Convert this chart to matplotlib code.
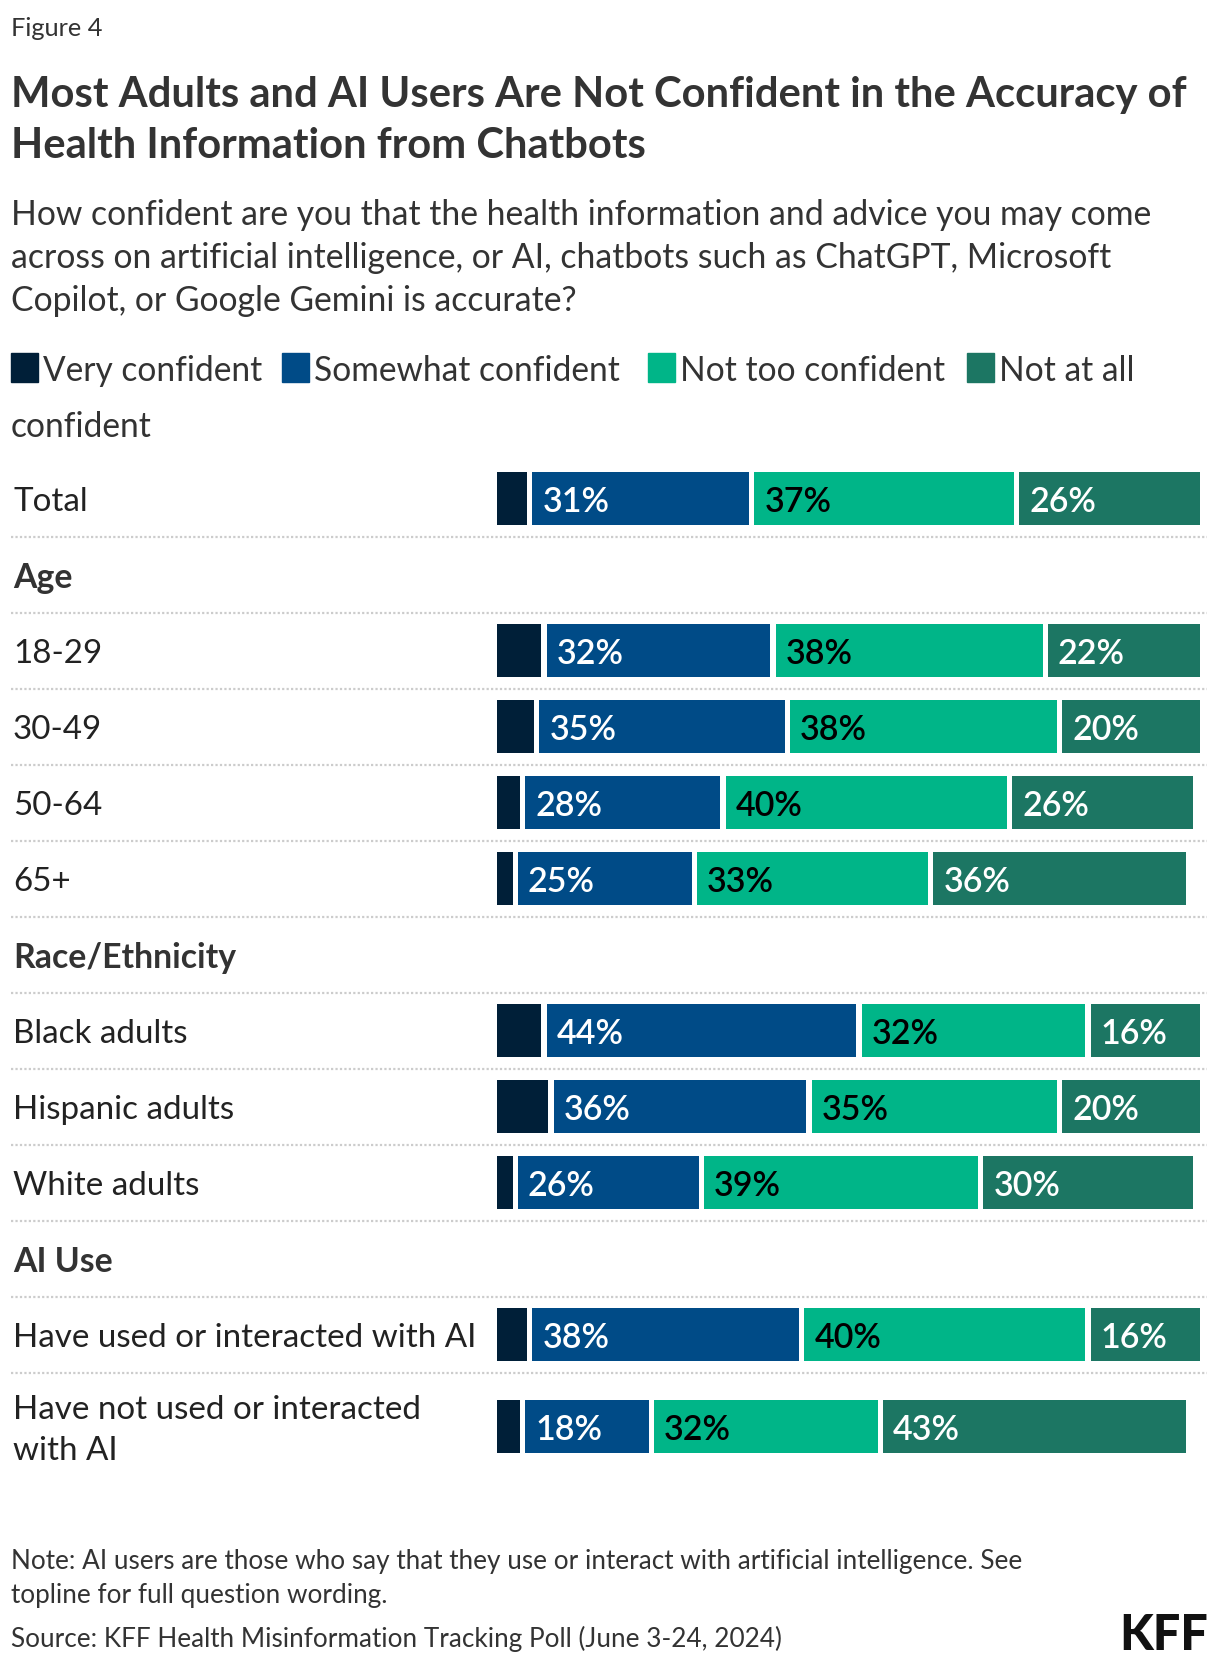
import matplotlib
matplotlib.use("Agg")
import matplotlib.pyplot as plt
from matplotlib.patches import Rectangle
from matplotlib.transforms import blended_transform_factory
import numpy as np

# ── Data ─────────────────────────────────────────────────────────────────────
series_names = ["Very confident", "Somewhat confident", "Not too confident", "Not at all confident"]
section_names = ["", "Age", "Race/Ethnicity", "AI Use"]
categories = ["Total", "18-29", "30-49", "50-64", "65+",
              "Black adults", "Hispanic adults", "White adults",
              "Have used or interacted with AI",
              "Have not used or interacted\nwith AI"]
section_of = [0, 1, 1, 1, 1, 2, 2, 2, 3, 3]

very_confident     = [5, 7, 6, 4, 3, 7, 8, 3, 5, 4]
somewhat_confident = [31, 32, 35, 28, 25, 44, 36, 26, 38, 18]
not_too_confident  = [37, 38, 38, 40, 33, 32, 35, 39, 40, 32]
not_at_all         = [26, 22, 20, 26, 36, 16, 20, 30, 16, 43]

colors     = ["#001f38", "#004b87", "#00b588", "#1c7663"]
txt_colors = [None, "white", "black", "white"]

# ── Figure / layout (pixels) ─────────────────────────────────────────────────
W, H = 1220, 1664
FONT = ["Lato", "DejaVu Sans"]
plt.rcParams["font.family"] = FONT
TXT = "#333333"

fig = plt.figure(figsize=(W / 100, H / 100), dpi=100)
renderer = fig.canvas.get_renderer()

X0   = 496.5     # pixel where 0% sits
PPP  = 7.16      # pixels per percent
ax = fig.add_axes([0, 0, 1, 1])
ax.set_xlim(-X0 / PPP, (W - X0) / PPP)
ax.set_ylim(H, 0)
ax.axis("off")
xpx = blended_transform_factory(ax.transAxes, ax.transData)


def fit_size(text, target_w, weight="normal", base=20):
    t = fig.text(0, 0, text, fontsize=base, fontweight=weight)
    w = t.get_window_extent(renderer).width
    t.remove()
    return base * target_w / w


def ftext(x, y, s, **kw):
    return fig.text(x / W, 1 - y / H, s, **kw)


fs_fig   = fit_size("Figure 4", 92)
fs_title = fit_size("Most Adults and AI Users Are Not Confident in the Accuracy of", 1174, "bold")
fs_sub   = fit_size("How confident are you that the health information and advice you may come", 1145)
fs_leg   = fit_size("Somewhat confident", 306)
fs_lab   = fit_size("Have used or interacted with AI", 464)
fs_head  = fit_size("Race/Ethnicity", 223, "bold")
fs_pct   = fit_size("31%", 67, "semibold")
fs_note  = fit_size("Note: AI users are those who say that they use or interact with "
                    "artificial intelligence. See", 1011)

# ── Header texts ─────────────────────────────────────────────────────────────
ftext(11, 28.5, "Figure 4", fontsize=fs_fig, color=TXT, va="center")
ftext(11, 95, "Most Adults and AI Users Are Not Confident in the Accuracy of",
      fontsize=fs_title, fontweight="bold", color=TXT, va="center")
ftext(11, 146, "Health Information from Chatbots",
      fontsize=fs_title, fontweight="bold", color=TXT, va="center")
sub_lines = ["How confident are you that the health information and advice you may come",
             "across on artificial intelligence, or AI, chatbots such as ChatGPT, Microsoft",
             "Copilot, or Google Gemini is accurate?"]
for i, line in enumerate(sub_lines):
    ftext(11, 215 + i * 43, line, fontsize=fs_sub, color=TXT, va="center")

# legend (wraps like the original)
legend_x = [11, 282, 648, 967]
ly = 368
for i, name in enumerate(series_names):
    first = name if i < 3 else "Not at all"
    lx = legend_x[i]
    fig.patches.append(Rectangle((lx / W, 1 - (ly + 14) / H), 27 / W, 29 / H,
                                 transform=fig.transFigure, color=colors[i]))
    ftext(lx + 32, ly + 3, first, fontsize=fs_leg, color=TXT, va="center")
ftext(11, 427, "confident", fontsize=fs_leg, color=TXT, va="center")

# ── Rows ─────────────────────────────────────────────────────────────────────
PITCH = 76
BAR_H = 53
GAP = 5.3 / PPP
y = 460.6  # top of first slot
row_y, dividers, headers = [], [], []
prev_sec = 0
for cat, sec in zip(categories, section_of):
    if sec != prev_sec:
        headers.append((section_names[sec], y + PITCH / 2))
        y += PITCH
        dividers.append(y)
        prev_sec = sec
    h = PITCH + 32 * cat.count("\n")
    row_y.append(y + h / 2)
    y += h
    dividers.append(y)
dividers = dividers[:-1]

series = np.array([very_confident, somewhat_confident, not_too_confident, not_at_all], float)
lefts = np.vstack([np.zeros(len(categories)), np.cumsum(series, axis=0)[:-1]])

for i in range(4):
    ax.barh(row_y, series[i] - GAP, left=lefts[i], height=BAR_H,
            color=colors[i], linewidth=0)
    if txt_colors[i] is None:
        continue
    for yy, v, l in zip(row_y, series[i], lefts[i]):
        ax.text(l + 10 / PPP, yy + 3.5, f"{int(v)}%", fontsize=fs_pct,
                fontweight="semibold", color=txt_colors[i], va="center")

for yy, cat in zip(row_y, categories):
    ax.text(13 / W, yy + 3.5, cat, transform=xpx, fontsize=fs_lab, color="#222222",
            va="center", linespacing=1.45)
for name, yy in headers:
    ax.text(13 / W, yy + 3, name, transform=xpx, fontsize=fs_head, fontweight="bold",
            color=TXT, va="center")

ax.hlines(dividers, (11 - X0) / PPP, (1207 - X0) / PPP, colors="#cccccc",
          linewidth=1.6, linestyles=(0, (1, 1)))

# ── Footer ───────────────────────────────────────────────────────────────────
ftext(11, 1561, "Note: AI users are those who say that they use or interact with "
      "artificial intelligence. See", fontsize=fs_note, color=TXT, va="center")
ftext(11, 1595, "topline for full question wording.", fontsize=fs_note, color=TXT, va="center")
ftext(11, 1639, "Source: KFF Health Misinformation Tracking Poll (June 3-24, 2024)",
      fontsize=fs_note, color=TXT, va="center")
ftext(1208, 1636, "KFF", fontsize=35, fontweight="black", color="#111111",
      ha="right", va="center")

fig.savefig("out.png", dpi=100)
